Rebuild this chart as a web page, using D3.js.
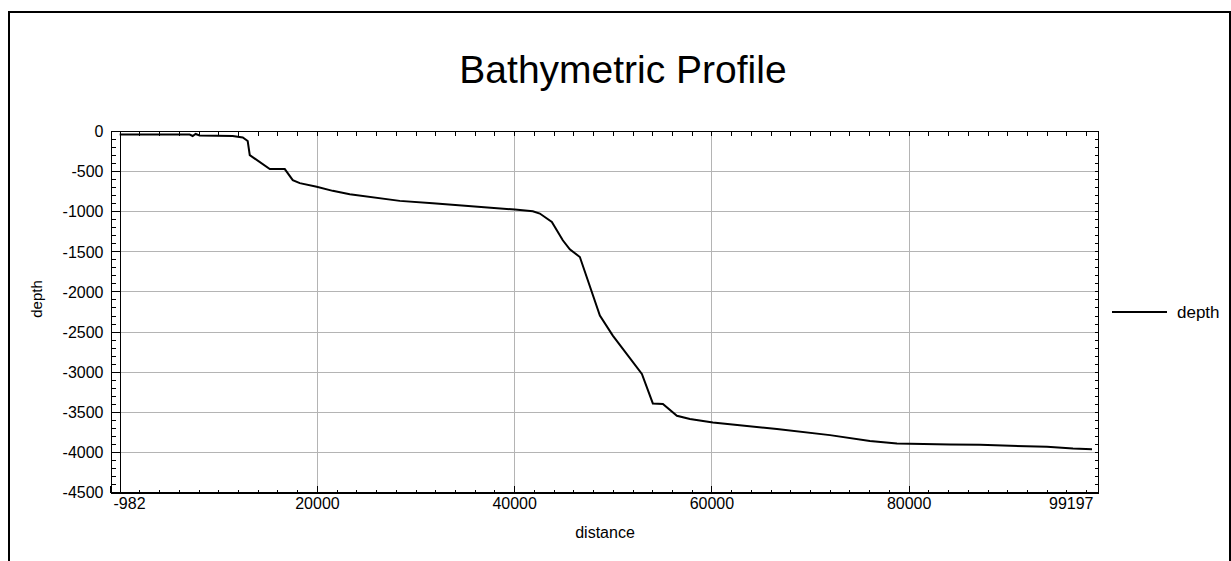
<!DOCTYPE html>
<html>
<head>
<meta charset="utf-8">
<script src="https://cdn.jsdelivr.net/npm/d3@7"></script>
<style>
    html, body { margin: 0; padding: 0; background: #fff; }
    svg { display: block; font-family: "Liberation Sans", Arial, sans-serif; }
    .axis text { font-size: 16px; fill: #000; }
    .axis path, .axis line { stroke: #000; shape-rendering: crispEdges; }
</style>
</head>
<body>
<svg id="chart" width="1231" height="561"></svg>
<script>
// profile samples
const distance = [ 0, 7100, 7400, 7700, 8100, 11460, 12480, 12980, 13190, 15220, 16740, 17550, 18260,
    19980, 21600, 23330, 28400, 31750, 40070, 41890, 42600, 43820, 44930, 45640, 46660, 48690,
    50000, 52950, 54060, 55080, 56500, 57820, 60150, 66640, 72020, 76070, 78810, 84190, 87230,
    94030, 96660, 98590 ];
const depth = [ -44, -44, -62, -37, -56, -62, -81, -125, -300, -475, -475, -612, -650,
    -696, -746, -788, -871, -900, -979, -1000, -1029, -1134, -1362, -1475, -1571, -2300,
    -2550, -3029, -3396, -3404, -3550, -3591, -3634, -3716, -3791, -3863, -3896, -3909, -3912,
    -3937, -3959, -3966 ];

const xTicks = [ -982, 20000, 40000, 60000, 80000, 99197 ];
const yTicks = [ 0, -500, -1000, -1500, -2000, -2500, -3000, -3500, -4000, -4500 ];
const xMinor = d3.range( 0, 99197, 2000 );
const yMinor = d3.range( 0, -4501, -100 );

const svg = d3.select( '#chart' );
const plain = d => String( d );

// plot frame
const pLeft = 120, pRight = 1098, pTop = 131, pBottom = 492, axisX = 110;

const x = d3.scaleLinear().domain( [ -982, 99197 ] ).range( [ axisX, pRight ] ),
    y = d3.scaleLinear().domain( [ -4500, 0 ] ).range( [ pBottom, pTop ] );

// outer border
svg.append( 'rect' )
    .attr( 'x', 9 ).attr( 'y', 12 )
    .attr( 'width', 1221 ).attr( 'height', 600 )
    .attr( 'fill', 'none' ).attr( 'stroke', '#000' ).attr( 'stroke-width', 2 );

svg.append( 'text' )
    .attr( 'x', 623 ).attr( 'y', 83 )
    .attr( 'text-anchor', 'middle' )
    .attr( 'font-size', '39px' )
    .text( 'Bathymetric Profile' );

// grid
const grid = svg.append( 'g' ).attr( 'stroke', '#b4b4b4' ).attr( 'shape-rendering', 'crispEdges' );
grid.selectAll( '.gy' ).data( yTicks.slice( 1, -1 ) ).enter().append( 'line' )
    .attr( 'x1', pLeft ).attr( 'x2', pRight )
    .attr( 'y1', d => Math.round( y( d ) ) + 0.5 ).attr( 'y2', d => Math.round( y( d ) ) + 0.5 );
grid.selectAll( '.gx' ).data( xTicks.slice( 1, -1 ) ).enter().append( 'line' )
    .attr( 'y1', pTop ).attr( 'y2', pBottom )
    .attr( 'x1', d => Math.round( x( d ) ) + 0.5 ).attr( 'x2', d => Math.round( x( d ) ) + 0.5 );

// frame
svg.append( 'rect' )
    .attr( 'x', pLeft + 0.5 ).attr( 'y', pTop + 0.5 )
    .attr( 'width', pRight - pLeft ).attr( 'height', pBottom - pTop )
    .attr( 'fill', 'none' ).attr( 'stroke', '#000' ).attr( 'shape-rendering', 'crispEdges' );

// top and right inward ticks
svg.append( 'g' ).attr( 'class', 'axis' ).attr( 'transform', `translate(0,${pTop + 0.5})` )
    .call( d3.axisTop( x ).tickValues( xMinor ).tickSize( -4 ).tickSizeOuter( 0 ).tickFormat( '' ) )
    .select( '.domain' ).remove();
svg.append( 'g' ).attr( 'class', 'axis' ).attr( 'transform', `translate(${pRight + 0.5},0)` )
    .call( d3.axisRight( y ).tickValues( yMinor ).tickSize( -4 ).tickSizeOuter( 0 ).tickFormat( '' ) )
    .select( '.domain' ).remove();

// left axis
svg.append( 'g' ).attr( 'class', 'axis' ).attr( 'transform', `translate(${axisX + 0.5},0)` )
    .call( d3.axisLeft( y ).tickValues( yMinor ).tickSize( -5 ).tickSizeOuter( 0 ).tickFormat( '' ) );
svg.append( 'g' ).attr( 'class', 'axis' ).attr( 'transform', `translate(${axisX + 0.5},0)` )
    .call( d3.axisLeft( y ).tickValues( yTicks ).tickSize( -9 ).tickSizeOuter( 0 ).tickPadding( 7 ).tickFormat( plain ) )
    .call( g => g.select( '.domain' ).remove() )
    .selectAll( 'text' ).attr( 'dy', '0.36em' );

// bottom axis
svg.append( 'g' ).attr( 'class', 'axis' ).attr( 'transform', `translate(0,${pBottom + 0.5})` )
    .call( d3.axisBottom( x ).tickValues( xMinor ).tickSize( -3 ).tickSizeOuter( 0 ).tickFormat( '' ) );
const xa = svg.append( 'g' ).attr( 'class', 'axis' ).attr( 'transform', `translate(0,${pBottom + 0.5})` )
    .call( d3.axisBottom( x ).tickValues( xTicks ).tickSize( -7 ).tickSizeOuter( 0 ).tickPadding( 5 ).tickFormat( plain ) );
xa.select( '.domain' ).remove();
xa.selectAll( 'text' )
    .attr( 'text-anchor', ( d, i ) => i == 0 ? 'start' : ( i == xTicks.length - 1 ? 'end' : 'middle' ) )
    .attr( 'dx', ( d, i ) => i == 0 ? 3 : ( i == xTicks.length - 1 ? -5 : 0 ) );

svg.append( 'text' )
    .attr( 'x', 605 ).attr( 'y', 538 )
    .attr( 'text-anchor', 'middle' ).attr( 'font-size', '16px' )
    .text( 'distance' );

svg.append( 'text' )
    .attr( 'transform', 'translate(42,299) rotate(-90)' )
    .attr( 'text-anchor', 'middle' ).attr( 'font-size', '15px' )
    .text( 'depth' );

// profile line
const line = d3.line()
    .x( ( d, i ) => x( distance[ i ] ) )
    .y( d => y( d ) );

svg.append( 'path' )
    .datum( depth )
    .attr( 'd', line )
    .attr( 'fill', 'none' )
    .attr( 'stroke', '#000' )
    .attr( 'stroke-width', 2 );

// legend
svg.append( 'line' )
    .attr( 'x1', 1112 ).attr( 'x2', 1167 )
    .attr( 'y1', 312 ).attr( 'y2', 312 )
    .attr( 'stroke', '#000' ).attr( 'stroke-width', 2 );
svg.append( 'text' )
    .attr( 'x', 1177 ).attr( 'y', 312 ).attr( 'dy', '0.36em' )
    .attr( 'font-size', '17px' )
    .text( 'depth' );
</script>
</body>
</html>
